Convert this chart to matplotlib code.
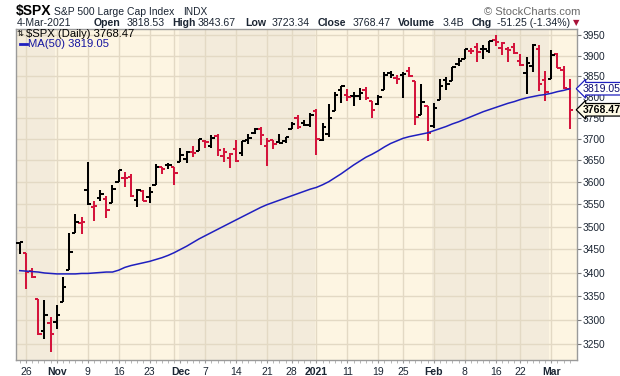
import numpy as np
import matplotlib
matplotlib.use('Agg')
import matplotlib.pyplot as plt
from matplotlib.transforms import blended_transform_factory

plt.rcParams['font.family'] = ['Liberation Sans', 'DejaVu Sans']

# daily OHLC, 23-Oct-2020 .. 4-Mar-2021
opens = [3464.90, 3441.42, 3403.15, 3342.48, 3277.17, 3293.59,
         3296.20, 3336.25, 3406.46, 3485.74, 3508.34,
         3583.04, 3543.26, 3563.22, 3562.67, 3552.57,
         3600.16, 3610.31, 3612.09, 3559.41, 3579.31,
         3566.82, 3594.52, 3635.50, 3638.55,
         3634.18, 3645.87, 3653.78, 3668.28, 3670.94,
         3694.73, 3683.05, 3705.98, 3659.13, 3656.08,
         3675.27, 3666.41, 3696.25, 3713.65, 3722.39,
         3684.28, 3698.08, 3693.42, 3694.03,
         3723.03, 3750.01, 3736.19, 3733.27,
         3764.61, 3698.02, 3712.20, 3764.71, 3815.05,
         3803.14, 3801.62, 3802.23, 3814.98, 3788.73,
         3781.88, 3816.22, 3857.46, 3844.24,
         3851.68, 3862.96, 3836.83, 3755.75, 3778.05,
         3731.17, 3791.84, 3840.27, 3836.66, 3878.30,
         3892.59, 3910.49, 3920.78, 3916.40, 3911.65,
         3939.61, 3918.50, 3915.86, 3921.16,
         3885.55, 3857.07, 3873.71, 3915.80, 3839.66,
         3842.51, 3903.64, 3863.99, 3818.53]
highs = [3466.46, 3441.42, 3409.51, 3342.48, 3341.05, 3304.93,
         3330.14, 3389.49, 3486.25, 3529.05, 3521.58,
         3645.99, 3557.22, 3581.16, 3569.02, 3593.66,
         3628.51, 3623.11, 3619.09, 3585.22, 3581.23,
         3589.81, 3642.31, 3635.50, 3644.31,
         3634.18, 3678.45, 3670.96, 3682.73, 3699.20,
         3697.41, 3708.45, 3712.39, 3678.49, 3665.91,
         3697.61, 3695.29, 3711.27, 3725.12, 3726.70,
         3702.90, 3698.26, 3711.24, 3703.82,
         3740.51, 3756.12, 3744.63, 3760.20,
         3769.99, 3737.83, 3783.04, 3811.55, 3826.69,
         3817.86, 3810.78, 3820.96, 3823.60, 3788.73,
         3804.53, 3859.75, 3861.45, 3852.31,
         3859.23, 3870.90, 3836.83, 3830.50, 3778.05,
         3784.32, 3843.09, 3847.51, 3872.42, 3894.56,
         3915.77, 3918.35, 3931.50, 3925.99, 3937.23,
         3950.43, 3933.61, 3921.98, 3930.41,
         3902.92, 3895.98, 3928.65, 3925.02, 3861.08,
         3914.50, 3906.41, 3874.47, 3843.67]
lows = [3440.45, 3364.86, 3388.71, 3268.89, 3259.82, 3233.94,
        3279.74, 3336.25, 3405.17, 3485.74, 3484.34,
        3547.48, 3511.91, 3557.00, 3518.58, 3552.57,
        3600.16, 3588.68, 3567.33, 3543.84, 3556.85,
        3552.77, 3594.52, 3617.76, 3629.33,
        3594.39, 3645.87, 3644.84, 3657.17, 3670.94,
        3678.88, 3678.83, 3660.54, 3645.18, 3633.40,
        3645.84, 3659.62, 3688.57, 3710.87, 3685.84,
        3636.48, 3676.16, 3689.28, 3689.32,
        3723.03, 3723.31, 3730.21, 3726.88,
        3662.71, 3695.07, 3705.34, 3764.71, 3783.60,
        3789.02, 3776.51, 3791.50, 3792.86, 3749.62,
        3780.37, 3816.22, 3845.05, 3830.41,
        3797.16, 3847.78, 3732.48, 3755.75, 3694.12,
        3725.62, 3791.84, 3816.68, 3836.66, 3874.93,
        3892.59, 3902.64, 3884.94, 3890.39, 3905.78,
        3923.85, 3900.43, 3885.03, 3903.07,
        3874.71, 3805.59, 3859.60, 3814.04, 3789.54,
        3842.51, 3868.57, 3818.86, 3723.34]
closes = [3465.39, 3400.97, 3390.68, 3271.03, 3310.11, 3269.96,
          3310.24, 3369.16, 3443.44, 3510.45, 3509.44,
          3550.50, 3545.53, 3572.66, 3537.01, 3585.15,
          3626.91, 3609.53, 3567.79, 3581.87, 3557.54,
          3577.59, 3635.41, 3629.65, 3638.35,
          3621.63, 3662.45, 3669.01, 3666.72, 3699.12,
          3691.96, 3702.25, 3672.82, 3668.10, 3663.46,
          3647.49, 3694.62, 3701.17, 3722.48, 3709.41,
          3694.92, 3687.26, 3690.01, 3703.06,
          3735.36, 3727.04, 3732.04, 3756.07,
          3700.65, 3726.86, 3748.14, 3803.79, 3824.68,
          3799.61, 3801.19, 3809.84, 3795.54, 3768.25,
          3798.91, 3851.85, 3853.07, 3841.47,
          3855.36, 3849.62, 3750.77, 3787.38, 3714.24,
          3773.86, 3826.31, 3830.17, 3871.74, 3886.83,
          3915.59, 3911.23, 3909.88, 3916.38, 3934.83,
          3932.59, 3931.33, 3913.97, 3906.71,
          3876.50, 3881.37, 3925.43, 3829.34, 3811.15,
          3901.82, 3870.29, 3819.72, 3768.47]
prev_close = 3453.49

# 50-day moving average
ma50 = [3404, 3403, 3402, 3401, 3399, 3398,
        3397, 3397, 3397, 3397, 3398,
        3398, 3399, 3400, 3401, 3401,
        3405, 3411, 3415, 3418, 3421,
        3424, 3428, 3432, 3437,
        3443, 3450, 3457, 3465, 3473,
        3480, 3487, 3494, 3501, 3508,
        3515, 3522, 3529, 3536, 3543,
        3549, 3554, 3559, 3564,
        3569, 3574, 3579, 3584,
        3588, 3594, 3601, 3610, 3619,
        3629, 3639, 3648, 3657, 3664,
        3672, 3681, 3689, 3695,
        3701, 3705, 3708, 3711, 3714,
        3719, 3724, 3729, 3735, 3740,
        3746, 3752, 3758, 3764, 3769,
        3774, 3779, 3784, 3788,
        3793, 3797, 3800, 3803, 3805,
        3808, 3812, 3815, 3819]

tick_pos = [1, 6, 11, 16, 21, 26, 30, 35, 40, 44, 48, 53, 58, 62, 67, 72, 77, 81, 86]
tick_labels = ['26', 'Nov', '9', '16', '23', 'Dec', '7', '14', '21', '28', '2021',
               '11', '19', '25', 'Feb', '8', '16', '22', 'Mar']
bold_labels = ['Nov', 'Dec', '2021', 'Feb', 'Mar']
grid_pos = [1, 6, 11, 16, 21, 25, 30, 35, 40, 44, 48, 53, 58, 62, 67, 72, 77, 81, 86]
month_edges = [5.7, 25.7, 47.7, 66.7, 85.7]
price_ticks = [3250, 3300, 3350, 3400, 3450, 3500, 3550, 3600, 3650, 3700,
               3750, 3800, 3850, 3900, 3950]

W, H = 620, 376
LIGHT = '#fdf5e2'
DARK = '#f3ebdb'
GRID = '#e3d9c4'
RED = '#d4143c'
BLUE = '#1f1fbf'
TXT = '#1b2533'


def px(x, y):
    return x / W, 1 - y / H


fig = plt.figure(figsize=(W / 100, H / 100), dpi=100)
ax = fig.add_axes([16 / W, 1 - 360 / H, (577 - 16) / W, (360 - 29) / H])
ax.set_facecolor(LIGHT)
ax.set_yscale('log')
ax.set_xlim(-0.61, 90.16)
ax.set_ylim(3217, 3966)

# month shading
edges = [-1] + month_edges + [92]
for k in range(len(edges) - 1):
    if k % 2 == 0:
        ax.axvspan(edges[k], edges[k + 1], color=DARK, lw=0, zorder=0)

for p in price_ticks:
    ax.axhline(p, color=GRID, lw=1, zorder=1)
for g in grid_pos:
    ax.axvline(g, color=GRID, lw=1, zorder=1)

# OHLC bars
idx = np.arange(len(closes))
prev = [prev_close] + closes[:-1]
cols = ['black' if c >= p else RED for c, p in zip(closes, prev)]
lw = 1.45
ax.vlines(idx, lows, highs, colors=cols, lw=lw, zorder=3)
ax.hlines(opens, idx - 0.55, idx, colors=cols, lw=lw, zorder=3)
ax.hlines(closes, idx, idx + 0.55, colors=cols, lw=lw, zorder=3)

ax.plot(idx, ma50, color=BLUE, lw=1.1, zorder=4)

# axes styling
for s in ax.spines.values():
    s.set_color('#9a9a9a')
    s.set_linewidth(1)
ax.yaxis.tick_right()
ax.yaxis.set_minor_locator(matplotlib.ticker.NullLocator())
ax.set_yticks(price_ticks)
ax.set_yticklabels([str(p) for p in price_ticks])
ax.tick_params(axis='y', which='major', length=3, width=0.8, color='#777777',
               pad=1, labelsize=7.3, labelcolor=TXT)
ax.set_xticks(tick_pos)
ax.set_xticklabels(tick_labels)
ax.set_xticks(idx, minor=True)
ax.tick_params(axis='x', which='major', length=2, width=0.8, color='#999999',
               pad=3, labelsize=7.5, labelcolor=TXT)
ax.tick_params(axis='x', which='minor', length=2, width=0.6, color='#aaaaaa')
for lab in ax.get_xticklabels():
    if lab.get_text() in bold_labels:
        lab.set_fontweight('bold')

# price flags on the right axis
tr = blended_transform_factory(ax.transAxes, ax.transData)
ax.text(1.0105, ma50[-1], '3819.05', transform=tr, ha='left', va='center',
        fontsize=7.6, color='#0d0d70', clip_on=False,
        bbox=dict(boxstyle='larrow,pad=0.12', fc='white', ec=BLUE, lw=0.9))
ax.text(1.0105, closes[-1], '3768.47', transform=tr, ha='left', va='center',
        fontsize=7.6, fontweight='bold', color='black', clip_on=False,
        bbox=dict(boxstyle='larrow,pad=0.12', fc='#fffbe6', ec='black', lw=0.9))

# legend inside the plot
fig.text(*px(17, 34), '\u21c5', fontsize=6, va='center', color='black',
         family=['DejaVu Sans'])
fig.text(*px(26, 34), '$SPX (Daily) 3768.47', fontsize=8.1, va='center', color='black')
fig.lines.append(plt.Line2D([20 / W, 27 / W], [1 - 44 / H, 1 - 44 / H],
                            transform=fig.transFigure, color=BLUE, lw=2))
fig.text(*px(28, 44), 'MA(50) 3819.05', fontsize=8.1, va='center', color='#1414a0')

# header
fig.text(*px(16, 11.5), '$SPX', fontsize=10, fontweight='bold', va='center', color='black')
fig.text(*px(54, 12), 'S&P 500 Large Cap Index', fontsize=7.5, va='center', color=TXT)
fig.text(*px(183, 12), 'INDX', fontsize=7.3, va='center', color=TXT)
fig.text(*px(580, 12), '\u00a9 StockCharts.com', fontsize=8, va='center', ha='right',
         color='#6a6a6a')

line2 = [(17, '4-Mar-2021', 'normal'), (94, 'Open', 'bold'), (127, '3818.53', 'normal'),
         (172, 'High', 'bold'), (198, '3843.67', 'normal'), (245, 'Low', 'bold'),
         (272, '3723.34', 'normal'), (318, 'Close', 'bold'), (353, '3768.47', 'normal'),
         (398, 'Volume', 'bold'), (443, '3.4B', 'normal'), (472, 'Chg', 'bold'),
         (497, '-51.25 (-1.34%)', 'normal')]
for x, s, w in line2:
    fig.text(*px(x, 23), s, fontsize=7.6, fontweight=w, va='center', color=TXT)
fig.text(*px(573, 23), '\u25bc', fontsize=6, va='center', color='#a8123a',
         family=['DejaVu Sans'])

fig.savefig('out.png', dpi=100)
